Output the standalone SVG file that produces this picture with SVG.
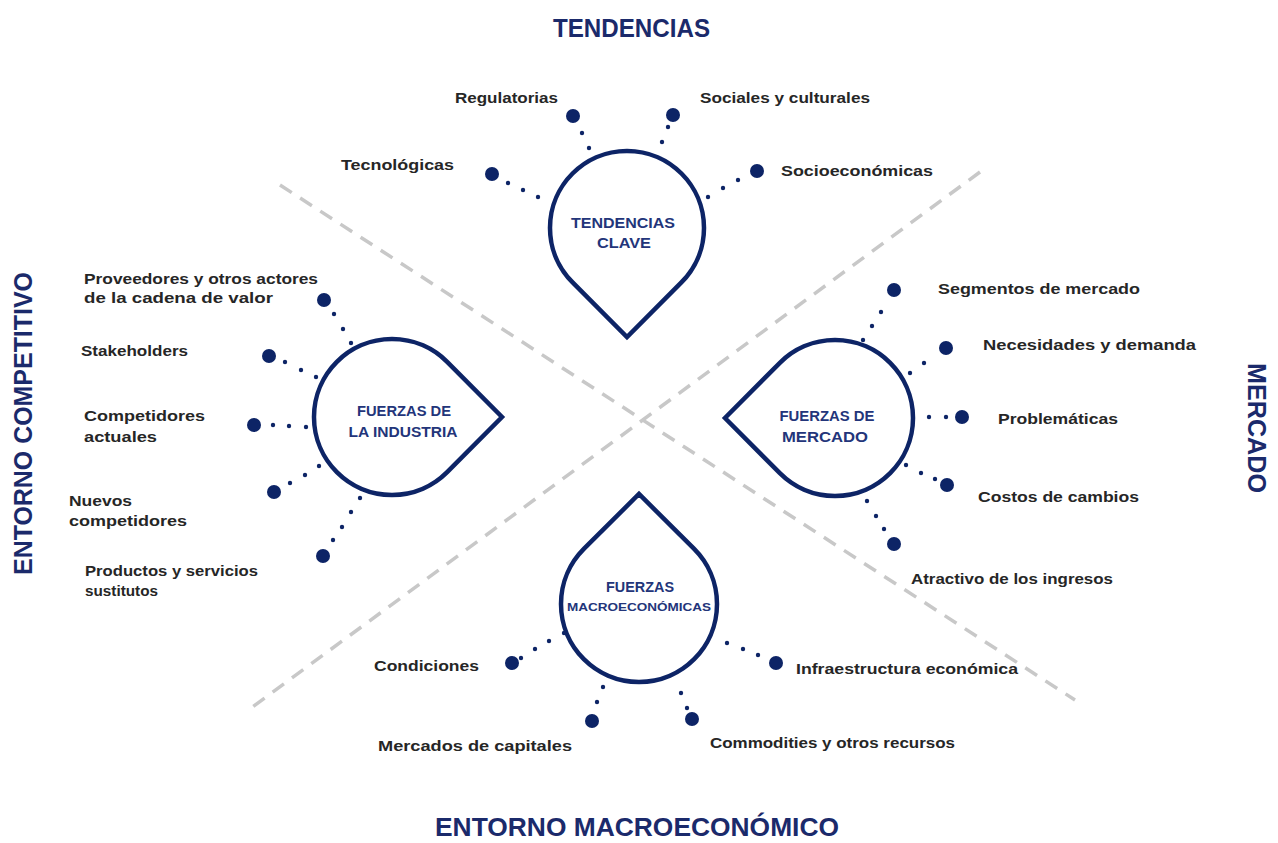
<svg xmlns="http://www.w3.org/2000/svg" width="1278" height="843" viewBox="0 0 1278 843">
<style>
.bg{fill:#ffffff}
.axis{stroke:#c8c8c8;stroke-width:3.5;stroke-dasharray:14 10;fill:none}
.drop{fill:#ffffff;stroke:#0d2466;stroke-width:4.5;stroke-linejoin:miter}
.big{fill:#0d2466}
.sm{fill:#0d2466}
.lbl{font-family:"Liberation Sans",Arial,sans-serif;font-weight:bold;font-size:15px;fill:#262626}
.inner{font-family:"Liberation Sans",Arial,sans-serif;font-weight:bold;font-size:14px;fill:#23357a;text-anchor:middle}
.title{font-family:"Liberation Sans",Arial,sans-serif;font-weight:bold;font-size:26px;fill:#1b2a6b}
</style>
<rect class="bg" x="0" y="0" width="1278" height="843"/>

<g id="axes">
<line class="axis" x1="280" y1="185" x2="1075" y2="700"/>
<line class="axis" x1="980" y1="172" x2="247" y2="711"/>
</g>

<g id="titles">
<text class="title" x="553" y="37" textLength="157" lengthAdjust="spacingAndGlyphs">TENDENCIAS</text>
<text class="title" x="435" y="836" style="font-size:25px" textLength="404" lengthAdjust="spacingAndGlyphs">ENTORNO MACROECONÓMICO</text>
<text class="title" transform="translate(32,575) rotate(-90)" x="0" y="0" textLength="303" lengthAdjust="spacingAndGlyphs">ENTORNO COMPETITIVO</text>
<text class="title" transform="translate(1248,363) rotate(90)" x="0" y="0" textLength="130" lengthAdjust="spacingAndGlyphs">MERCADO</text>
</g>

<g id="connectors">
<g id="c-regulatorias"><circle class="big" cx="573" cy="116" r="7"/><circle class="sm" cx="582" cy="133" r="2.2"/><circle class="sm" cx="589" cy="148" r="2.2"/></g>
<g id="c-sociales"><circle class="big" cx="673" cy="115" r="7"/><circle class="sm" cx="668" cy="127" r="2.2"/><circle class="sm" cx="662" cy="142" r="2.2"/></g>
<g id="c-tecnologicas"><circle class="big" cx="492" cy="174" r="7"/><circle class="sm" cx="508" cy="183" r="2.2"/><circle class="sm" cx="523" cy="190" r="2.2"/><circle class="sm" cx="538" cy="197" r="2.2"/></g>
<g id="c-socioeconomicas"><circle class="big" cx="757" cy="171" r="7"/><circle class="sm" cx="738" cy="180" r="2.2"/><circle class="sm" cx="723" cy="188" r="2.2"/><circle class="sm" cx="708" cy="197" r="2.2"/></g>

<g id="c-proveedores"><circle class="big" cx="324" cy="300" r="7"/><circle class="sm" cx="334" cy="314" r="2.2"/><circle class="sm" cx="343" cy="329" r="2.2"/><circle class="sm" cx="351" cy="343" r="2.2"/></g>
<g id="c-stakeholders"><circle class="big" cx="269" cy="356" r="7"/><circle class="sm" cx="285" cy="362" r="2.2"/><circle class="sm" cx="301" cy="370" r="2.2"/><circle class="sm" cx="316" cy="377" r="2.2"/></g>
<g id="c-competidores"><circle class="big" cx="254" cy="425" r="7"/><circle class="sm" cx="273" cy="425" r="2.2"/><circle class="sm" cx="289" cy="426" r="2.2"/><circle class="sm" cx="306" cy="427" r="2.2"/></g>
<g id="c-nuevos"><circle class="big" cx="274" cy="492" r="7"/><circle class="sm" cx="290" cy="483" r="2.2"/><circle class="sm" cx="305" cy="475" r="2.2"/><circle class="sm" cx="319" cy="466" r="2.2"/></g>
<g id="c-productos"><circle class="big" cx="323" cy="556" r="7"/><circle class="sm" cx="333" cy="540" r="2.2"/><circle class="sm" cx="342" cy="527" r="2.2"/><circle class="sm" cx="351" cy="512" r="2.2"/><circle class="sm" cx="360" cy="498" r="2.2"/></g>

<g id="c-segmentos"><circle class="big" cx="894" cy="290" r="7"/><circle class="sm" cx="881" cy="312" r="2.2"/><circle class="sm" cx="872" cy="326" r="2.2"/><circle class="sm" cx="863" cy="340" r="2.2"/></g>
<g id="c-necesidades"><circle class="big" cx="946" cy="348" r="7"/><circle class="sm" cx="924" cy="363" r="2.2"/><circle class="sm" cx="910" cy="373" r="2.2"/></g>
<g id="c-problematicas"><circle class="big" cx="962" cy="417" r="7"/><circle class="sm" cx="946" cy="417" r="2.2"/><circle class="sm" cx="929" cy="417" r="2.2"/></g>
<g id="c-costos"><circle class="big" cx="947" cy="485" r="7"/><circle class="sm" cx="935" cy="479" r="2.2"/><circle class="sm" cx="921" cy="473" r="2.2"/><circle class="sm" cx="906" cy="465" r="2.2"/></g>
<g id="c-atractivo"><circle class="big" cx="894" cy="544" r="7"/><circle class="sm" cx="884" cy="529" r="2.2"/><circle class="sm" cx="876" cy="516" r="2.2"/><circle class="sm" cx="867" cy="501" r="2.2"/></g>

<g id="c-condiciones"><circle class="big" cx="512" cy="663" r="7"/><circle class="sm" cx="521" cy="658" r="2.2"/><circle class="sm" cx="535" cy="649" r="2.2"/><circle class="sm" cx="549" cy="641" r="2.2"/><circle class="sm" cx="564" cy="633" r="2.2"/></g>
<g id="c-infraestructura"><circle class="big" cx="776" cy="663" r="7"/><circle class="sm" cx="727" cy="643" r="2.2"/><circle class="sm" cx="743" cy="649" r="2.2"/><circle class="sm" cx="758" cy="655" r="2.2"/></g>
<g id="c-mercados"><circle class="big" cx="592" cy="721" r="7"/><circle class="sm" cx="597" cy="702" r="2.2"/><circle class="sm" cx="603" cy="687" r="2.2"/></g>
<g id="c-commodities"><circle class="big" cx="692" cy="719" r="7"/><circle class="sm" cx="687" cy="708" r="2.2"/><circle class="sm" cx="681" cy="693" r="2.2"/></g>
</g>

<g id="node-tendencias">
<path class="drop" d="M 572.6 282.4 A 77 77 0 1 1 681.4 282.4 L 627 337 Z"/>
<text class="inner" x="623" y="228" textLength="104" lengthAdjust="spacingAndGlyphs">TENDENCIAS</text>
<text class="inner" x="624" y="248" textLength="54" lengthAdjust="spacingAndGlyphs">CLAVE</text>
</g>

<g id="node-industria">
<path class="drop" d="M 447.15 472.15 A 78 78 0 1 1 447.15 361.85 L 502 417 Z"/>
<text class="inner" x="404" y="416" textLength="94" lengthAdjust="spacingAndGlyphs">FUERZAS DE</text>
<text class="inner" x="403" y="437" textLength="109" lengthAdjust="spacingAndGlyphs">LA INDUSTRIA</text>
</g>

<g id="node-mercado">
<path class="drop" d="M 779.85 362.85 A 78 78 0 1 1 779.85 473.15 L 725 418 Z"/>
<text class="inner" x="827" y="421" textLength="95" lengthAdjust="spacingAndGlyphs">FUERZAS DE</text>
<text class="inner" x="825" y="442" textLength="86" lengthAdjust="spacingAndGlyphs">MERCADO</text>
</g>

<g id="node-macro">
<path class="drop" d="M 694.15 548.85 A 78 78 0 1 1 583.85 548.85 L 639 494 Z"/>
<text class="inner" x="640" y="592" textLength="68" lengthAdjust="spacingAndGlyphs">FUERZAS</text>
<text class="inner" x="639" y="611" style="font-size:11px" textLength="144" lengthAdjust="spacingAndGlyphs">MACROECONÓMICAS</text>
</g>

<g id="labels-tendencias">
<text class="lbl" x="455" y="103" textLength="103" lengthAdjust="spacingAndGlyphs">Regulatorias</text>
<text class="lbl" x="700" y="103" textLength="170" lengthAdjust="spacingAndGlyphs">Sociales y culturales</text>
<text class="lbl" x="341" y="170" textLength="113" lengthAdjust="spacingAndGlyphs">Tecnológicas</text>
<text class="lbl" x="781" y="176" textLength="152" lengthAdjust="spacingAndGlyphs">Socioeconómicas</text>
</g>

<g id="labels-industria">
<text class="lbl" x="84" y="284" textLength="234" lengthAdjust="spacingAndGlyphs">Proveedores y otros actores</text>
<text class="lbl" x="84" y="303" textLength="189" lengthAdjust="spacingAndGlyphs">de la cadena de valor</text>
<text class="lbl" x="81" y="356" textLength="107" lengthAdjust="spacingAndGlyphs">Stakeholders</text>
<text class="lbl" x="84" y="421" textLength="121" lengthAdjust="spacingAndGlyphs">Competidores</text>
<text class="lbl" x="84" y="442" textLength="73" lengthAdjust="spacingAndGlyphs">actuales</text>
<text class="lbl" x="69" y="506" textLength="63" lengthAdjust="spacingAndGlyphs">Nuevos</text>
<text class="lbl" x="69" y="526" textLength="118" lengthAdjust="spacingAndGlyphs">competidores</text>
<text class="lbl" x="85" y="576" textLength="173" lengthAdjust="spacingAndGlyphs">Productos y servicios</text>
<text class="lbl" x="85" y="596" textLength="73" lengthAdjust="spacingAndGlyphs">sustitutos</text>
</g>

<g id="labels-mercado">
<text class="lbl" x="938" y="294" textLength="202" lengthAdjust="spacingAndGlyphs">Segmentos de mercado</text>
<text class="lbl" x="983" y="350" textLength="213" lengthAdjust="spacingAndGlyphs">Necesidades y demanda</text>
<text class="lbl" x="998" y="424" textLength="120" lengthAdjust="spacingAndGlyphs">Problemáticas</text>
<text class="lbl" x="978" y="502" textLength="161" lengthAdjust="spacingAndGlyphs">Costos de cambios</text>
<text class="lbl" x="911" y="584" textLength="202" lengthAdjust="spacingAndGlyphs">Atractivo de los ingresos</text>
</g>

<g id="labels-macro">
<text class="lbl" x="374" y="671" textLength="105" lengthAdjust="spacingAndGlyphs">Condiciones</text>
<text class="lbl" x="796" y="674" textLength="222" lengthAdjust="spacingAndGlyphs">Infraestructura económica</text>
<text class="lbl" x="378" y="751" textLength="194" lengthAdjust="spacingAndGlyphs">Mercados de capitales</text>
<text class="lbl" x="710" y="748" textLength="245" lengthAdjust="spacingAndGlyphs">Commodities y otros recursos</text>
</g>
</svg>
